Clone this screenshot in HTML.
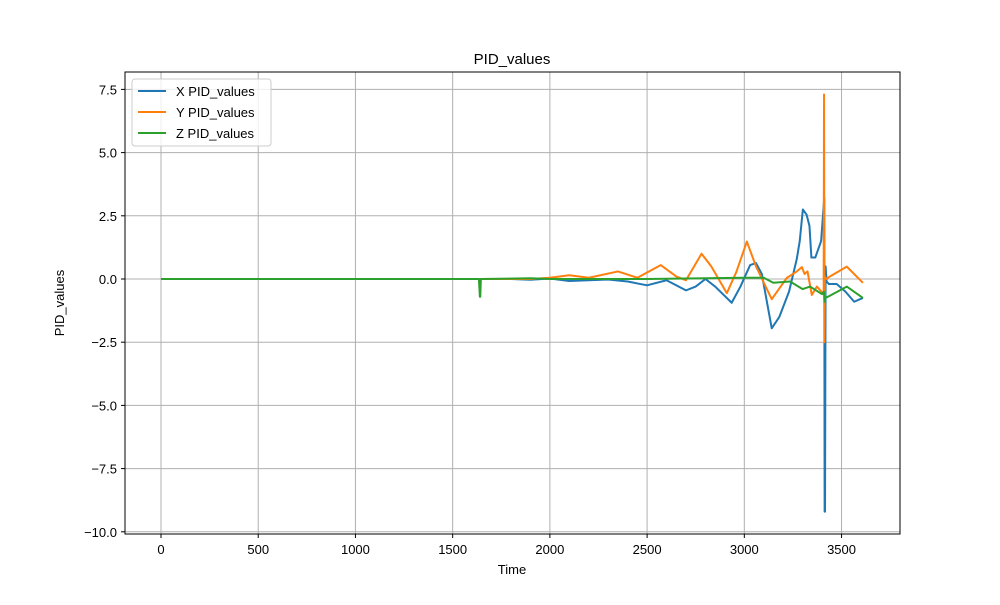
<!DOCTYPE html>
<html><head><meta charset="utf-8"><style>
body{margin:0;background:#fff;font-family:"Liberation Sans","DejaVu Sans",sans-serif}
</style></head><body>
<svg id="chart" width="1000" height="600" xmlns="http://www.w3.org/2000/svg" font-family="Liberation Sans, DejaVu Sans, sans-serif">
<rect width="1000" height="600" fill="#fff"/>
<g id="grid"></g><g id="series"></g>
<rect x="125" y="72" width="775" height="462" fill="none" stroke="#000" stroke-width="1"/>
<g id="ticks"></g>
<text x="512" y="64" font-size="15" text-anchor="middle">PID_values</text>
<text x="512" y="574" font-size="13" text-anchor="middle">Time</text>
<text x="64" y="303" font-size="13" text-anchor="middle" transform="rotate(-90 64 303)">PID_values</text>
<g>
<rect x="132" y="79" width="139" height="67" fill="#fff" fill-opacity="0.8" stroke="#ccc" rx="3"/>
<line x1="138" y1="91" x2="166" y2="91" stroke="#1f77b4" stroke-width="2"/><text x="176" y="96" font-size="13">X PID_values</text>
<line x1="138" y1="112" x2="166" y2="112" stroke="#ff7f0e" stroke-width="2"/><text x="176" y="117" font-size="13">Y PID_values</text>
<line x1="138" y1="133" x2="166" y2="133" stroke="#2ca02c" stroke-width="2"/><text x="176" y="138" font-size="13">Z PID_values</text>
</g>
</svg>
<script>
const xTicks=[0,500,1000,1500,2000,2500,3000,3500];
const yTicks=[7.5,5.0,2.5,0.0,-2.5,-5.0,-7.5,-10.0];
const xT=[0,1800,1900,2000,2100,2200,2300,2400,2500,2600,2700,2750,2800,2850,2935,2980,3030,3060,3090,3141,3180,3230,3270,3285,3301,3320,3335,3345,3365,3395,3411,3413,3415,3418,3423,3435,3475,3520,3565,3610];
const xV=[0,0,-0.03,0.02,-0.08,-0.05,-0.02,-0.1,-0.25,-0.05,-0.45,-0.3,0,-0.3,-0.94,-0.3,0.55,0.63,0.2,-1.95,-1.5,-0.5,0.8,1.5,2.75,2.55,2.1,0.85,0.85,1.5,3.2,-9.2,-9.2,0.5,-0.1,-0.2,-0.2,-0.5,-0.9,-0.75];
const yT=[0,1900,2000,2100,2200,2350,2450,2570,2650,2700,2780,2830,2910,2960,3013,3060,3141,3218,3270,3296,3310,3325,3347,3373,3408,3410,3412,3414,3420,3440,3527,3610];
const yV=[0,0,0.05,0.15,0.05,0.3,0.05,0.55,0.1,-0.05,1.0,0.5,-0.56,0.3,1.48,0.5,-0.8,0.04,0.3,0.47,0.2,0.3,-0.63,-0.3,-0.6,7.3,-2.5,0.1,0,0.1,0.49,-0.15];
const zT=[0,1635,1640,1642,1645,1900,2000,2500,3000,3100,3149,3235,3300,3338,3400,3410,3413,3416,3430,3527,3610];
const zV=[0,0,-0.7,-0.7,0,0.03,0,0,0.05,0.05,-0.15,-0.1,-0.4,-0.3,-0.6,-0.5,-0.9,-0.75,-0.7,-0.3,-0.75];
const sx=t=>161+t*0.19444, sy=v=>279-v*25.28;
const NS="http://www.w3.org/2000/svg";
const grid=document.getElementById('grid'),ticks=document.getElementById('ticks'),ser=document.getElementById('series');
function mk(tag,a,p){const e=document.createElementNS(NS,tag);for(const k in a)e.setAttribute(k,a[k]);p.appendChild(e);return e;}
xTicks.forEach(t=>{const x=sx(t);
const g=mk('line',{x1:x,x2:x,y1:72,y2:534,stroke:'#b0b0b0','stroke-width':1},grid);


mk('line',{x1:x,x2:x,y1:534,y2:538,stroke:'#000'},ticks);
const l=mk('text',{x:x,y:554,'font-size':13,'text-anchor':'middle'},ticks);l.textContent=t;

});
yTicks.forEach(v=>{const y=sy(v);
const g=mk('line',{x1:125,x2:900,y1:y,y2:y,stroke:'#b0b0b0','stroke-width':1},grid);


mk('line',{x1:121,x2:125,y1:y,y2:y,stroke:'#000'},ticks);
const l=mk('text',{x:117,y:y+5,'font-size':13,'text-anchor':'end'},ticks);l.textContent=(v<0?'\u2212'+(-v).toFixed(1):v.toFixed(1));

});
[[xT,xV,'#1f77b4','x-pid-line'],[yT,yV,'#ff7f0e','y-pid-line'],[zT,zV,'#2ca02c','z-pid-line']].forEach(([T,V,c,n])=>{
const p=mk('polyline',{points:T.map((t,i)=>sx(t)+','+sy(V[i])).join(' '),fill:'none',stroke:c,'stroke-width':2,'stroke-linejoin':'round'},ser);

});
</script>
</body></html>
